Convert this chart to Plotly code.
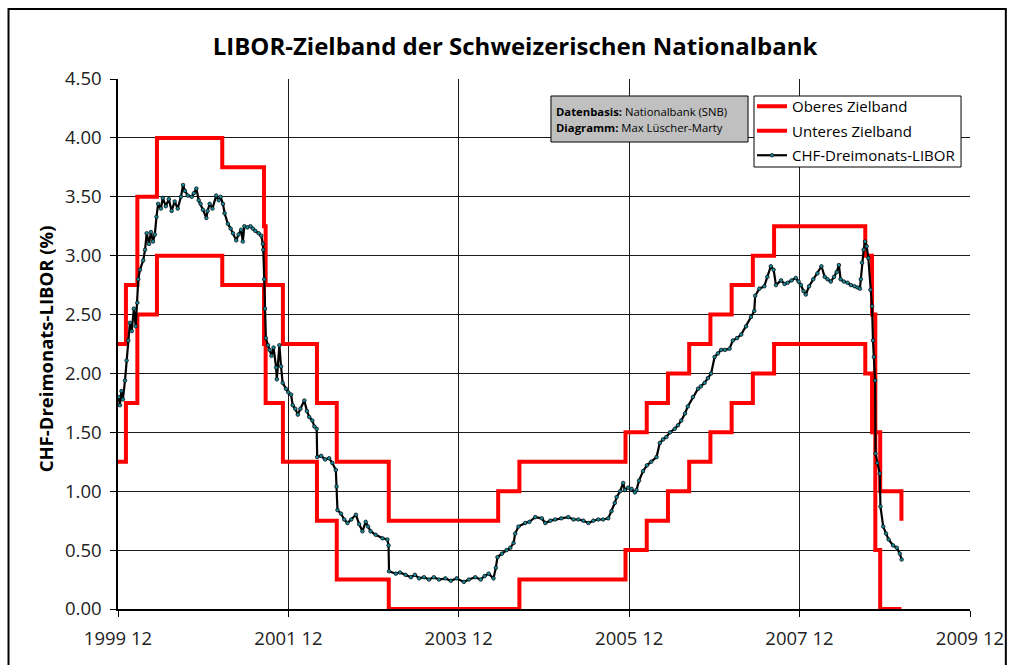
import plotly.graph_objects as go

# ---------------- data ----------------
band_dates = ["1999-12-31", "2000-02-03", "2000-03-23", "2000-06-15", "2001-03-22",
              "2001-09-17", "2001-09-24", "2001-12-07", "2002-05-02", "2002-07-26",
              "2003-03-06", "2004-06-17", "2004-09-16", "2005-12-15", "2006-03-16",
              "2006-06-15", "2006-09-14", "2006-12-14", "2007-03-15", "2007-06-14",
              "2007-09-13", "2008-10-08", "2008-11-06", "2008-11-20", "2008-12-11",
              "2009-03-12"]
upper_band = [2.25, 2.75, 3.50, 4.00, 3.75, 3.25, 2.75, 2.25, 1.75, 1.25,
              0.75, 1.00, 1.25, 1.50, 1.75, 2.00, 2.25, 2.50, 2.75, 3.00,
              3.25, 3.00, 2.50, 1.50, 1.00, 0.75]
lower_band = [1.25, 1.75, 2.50, 3.00, 2.75, 2.25, 1.75, 1.25, 0.75, 0.25,
              0.00, 0.00, 0.25, 0.50, 0.75, 1.00, 1.25, 1.50, 1.75, 2.00,
              2.25, 2.00, 1.50, 0.50, 0.00, 0.00]

libor_dates = [
    "2000-01-03", "2000-01-08", "2000-01-15", "2000-01-21", "2000-01-30", "2000-02-06",
    "2000-02-13", "2000-02-20", "2000-02-28", "2000-03-08", "2000-03-16", "2000-03-23",
    "2000-03-27", "2000-04-03", "2000-04-17", "2000-04-25", "2000-05-02", "2000-05-12",
    "2000-05-20", "2000-05-29", "2000-06-06", "2000-06-13", "2000-06-20", "2000-07-02",
    "2000-07-10", "2000-07-23", "2000-08-05", "2000-08-17", "2000-08-30", "2000-09-12",
    "2000-09-26", "2000-10-05", "2000-10-13", "2000-10-25", "2000-11-11", "2000-11-20",
    "2000-12-01", "2000-12-11", "2000-12-19", "2000-12-29", "2001-01-13", "2001-01-18",
    "2001-01-27", "2001-02-08", "2001-02-24", "2001-03-07", "2001-03-15", "2001-03-25",
    "2001-04-01", "2001-04-15", "2001-04-27", "2001-05-07", "2001-05-21", "2001-05-31",
    "2001-06-11", "2001-06-18", "2001-06-25", "2001-07-08", "2001-07-21", "2001-07-31",
    "2001-08-11", "2001-08-25", "2001-09-05", "2001-09-12", "2001-09-14", "2001-09-18",
    "2001-09-21", "2001-09-25", "2001-10-04", "2001-10-11", "2001-10-19", "2001-10-28",
    "2001-11-08", "2001-11-11", "2001-11-22", "2001-11-29", "2001-12-06", "2001-12-20",
    "2001-12-30", "2002-01-11", "2002-01-18", "2002-01-29", "2002-02-09", "2002-02-20",
    "2002-03-09", "2002-03-20", "2002-03-30", "2002-04-12", "2002-04-21", "2002-05-01",
    "2002-05-03", "2002-05-20", "2002-06-06", "2002-06-23", "2002-07-07", "2002-07-22",
    "2002-07-25", "2002-07-29", "2002-08-13", "2002-08-27", "2002-09-10", "2002-09-26",
    "2002-10-16", "2002-10-30", "2002-11-13", "2002-11-27", "2002-12-07", "2002-12-18",
    "2003-01-09", "2003-02-07", "2003-02-28", "2003-03-05", "2003-03-07", "2003-04-05",
    "2003-04-23", "2003-05-17", "2003-06-09", "2003-06-26", "2003-07-14", "2003-08-04",
    "2003-08-25", "2003-09-15", "2003-10-07", "2003-11-04", "2003-11-27", "2003-12-22",
    "2004-01-22", "2004-02-12", "2004-03-11", "2004-04-03", "2004-04-20", "2004-05-07",
    "2004-05-28", "2004-06-07", "2004-06-14", "2004-07-03", "2004-07-23", "2004-08-08",
    "2004-08-22", "2004-08-29", "2004-09-12", "2004-10-11", "2004-10-29", "2004-11-23",
    "2004-12-21", "2005-01-05", "2005-01-27", "2005-02-16", "2005-03-15", "2005-04-14",
    "2005-05-06", "2005-05-27", "2005-06-17", "2005-07-09", "2005-07-30", "2005-08-20",
    "2005-09-10", "2005-10-02", "2005-10-16", "2005-10-30", "2005-11-07", "2005-11-22",
    "2005-12-05", "2005-12-12", "2005-12-26", "2006-01-10", "2006-01-24", "2006-01-31",
    "2006-02-11", "2006-02-28", "2006-03-17", "2006-04-04", "2006-04-27", "2006-05-11",
    "2006-05-25", "2006-06-08", "2006-06-24", "2006-07-14", "2006-07-28", "2006-08-11",
    "2006-08-27", "2006-09-08", "2006-09-30", "2006-10-22", "2006-11-03", "2006-11-19",
    "2006-12-03", "2006-12-17", "2007-01-01", "2007-01-15", "2007-01-29", "2007-02-14",
    "2007-03-06", "2007-03-20", "2007-04-07", "2007-04-25", "2007-05-16", "2007-06-06",
    "2007-06-20", "2007-06-24", "2007-07-12", "2007-08-02", "2007-08-15", "2007-08-30",
    "2007-09-11", "2007-09-21", "2007-10-13", "2007-10-28", "2007-11-10", "2007-11-27",
    "2007-12-15", "2007-12-27", "2008-01-06", "2008-01-17", "2008-01-27", "2008-02-10",
    "2008-02-28", "2008-03-17", "2008-04-03", "2008-04-17", "2008-04-29", "2008-05-13",
    "2008-05-27", "2008-06-07", "2008-06-17", "2008-06-24", "2008-07-08", "2008-07-24",
    "2008-08-07", "2008-08-23", "2008-09-05", "2008-09-15", "2008-09-19", "2008-09-24",
    "2008-10-01", "2008-10-07", "2008-10-14", "2008-10-21", "2008-10-30", "2008-11-06",
    "2008-11-10", "2008-11-14", "2008-11-19", "2008-11-21", "2008-11-28", "2008-12-09",
    "2008-12-12", "2008-12-24", "2009-01-05", "2009-01-16", "2009-02-04", "2009-02-20",
    "2009-03-05", "2009-03-13"]
libor_values = [
    1.80, 1.73, 1.85, 1.78, 1.94, 2.11,
    2.28, 2.43, 2.36, 2.55, 2.40, 2.60,
    2.80, 2.88, 2.96, 3.05, 3.19, 3.10,
    3.20, 3.12, 3.18, 3.33, 3.44, 3.40,
    3.49, 3.42, 3.48, 3.38, 3.46, 3.40,
    3.50, 3.60, 3.55, 3.51, 3.50, 3.53,
    3.57, 3.47, 3.44, 3.39, 3.32, 3.38,
    3.44, 3.40, 3.51, 3.47, 3.50, 3.44,
    3.36, 3.27, 3.23, 3.19, 3.13, 3.18,
    3.22, 3.12, 3.25, 3.24, 3.25, 3.23,
    3.21, 3.19, 3.17, 3.10, 3.05, 2.80,
    2.55, 2.30, 2.24, 2.20, 2.15, 2.22,
    2.05, 1.95, 2.24, 2.06, 1.92, 1.87,
    1.84, 1.82, 1.73, 1.70, 1.65, 1.70,
    1.77, 1.68, 1.63, 1.60, 1.55, 1.53,
    1.29, 1.30, 1.27, 1.28, 1.24, 1.18,
    1.04, 0.84, 0.81, 0.76, 0.73, 0.76,
    0.80, 0.72, 0.66, 0.74, 0.70, 0.66,
    0.63, 0.60, 0.59, 0.54, 0.32, 0.30,
    0.31, 0.29, 0.27, 0.29, 0.26, 0.27,
    0.25, 0.27, 0.25, 0.26, 0.24, 0.26,
    0.23, 0.25, 0.27, 0.25, 0.28, 0.30,
    0.26, 0.35, 0.44, 0.47, 0.50, 0.52,
    0.56, 0.64, 0.70, 0.73, 0.74, 0.78,
    0.77, 0.73, 0.75, 0.76, 0.77, 0.78,
    0.76, 0.76, 0.75, 0.73, 0.75, 0.76,
    0.76, 0.77, 0.83, 0.90, 0.95, 1.00,
    1.07, 1.01, 1.03, 1.02, 0.99, 1.01,
    1.09, 1.17, 1.22, 1.25, 1.29, 1.41,
    1.44, 1.46, 1.50, 1.53, 1.56, 1.60,
    1.66, 1.72, 1.80, 1.87, 1.89, 1.92,
    1.96, 2.00, 2.14, 2.17, 2.20, 2.20,
    2.21, 2.28, 2.30, 2.33, 2.40, 2.48,
    2.53, 2.66, 2.72, 2.74, 2.82, 2.91,
    2.88, 2.75, 2.79, 2.76, 2.77, 2.79,
    2.81, 2.78, 2.75, 2.70, 2.67, 2.74,
    2.80, 2.85, 2.91, 2.82, 2.80, 2.78,
    2.82, 2.86, 2.92, 2.80, 2.78, 2.77,
    2.75, 2.74, 2.73, 2.72, 2.80, 2.94,
    3.05, 3.12, 3.08, 2.98, 2.71, 2.57,
    2.28, 2.14, 1.94, 1.32, 1.24, 1.15,
    0.87, 0.70, 0.64, 0.59, 0.54, 0.52,
    0.47, 0.42]

x_tick_dates = ["1999-12-31", "2001-12-31", "2003-12-31", "2005-12-31", "2007-12-31", "2009-12-31"]
x_tick_labels = ["1999 12", "2001 12", "2003 12", "2005 12", "2007 12", "2009 12"]
y_tick_values = [0.0, 0.5, 1.0, 1.5, 2.0, 2.5, 3.0, 3.5, 4.0, 4.5]

# ---------------- layout helpers ----------------
W, H = 1016, 665
ML, MR, MT, MB = 118, 42, 79, 56
PW = W - ML - MR
PH = H - MT - MB
FONT = "Open Sans"


def px_x(p):
    return (p - ML) / PW


def px_y(p):
    return (H - MB - p) / PH


fig = go.Figure()
fig.add_trace(go.Scatter(
    x=band_dates, y=upper_band, mode="lines", name="Oberes Zielband",
    legendgroup="g1", line=dict(color="#FF0000", width=4, shape="hv")))
fig.add_trace(go.Scatter(
    x=band_dates, y=lower_band, mode="lines", name="Unteres Zielband",
    legendgroup="g2", line=dict(color="#FF0000", width=4, shape="hv")))
fig.add_trace(go.Scatter(
    x=libor_dates, y=libor_values, mode="lines+markers", name="CHF-Dreimonats-LIBOR",
    legendgroup="g3", line=dict(color="#000000", width=2.2),
    marker=dict(symbol="circle", size=3.6, color="#1a8a99", line=dict(color="#000000", width=0.7))))

fig.update_layout(
    width=W, height=H,
    margin=dict(l=ML, r=MR, t=MT, b=MB, pad=0),
    paper_bgcolor="white", plot_bgcolor="white",
    font=dict(family=FONT, color="#000000"),
    title=dict(text="<b>LIBOR-Zielband der Schweizerischen Nationalbank</b>",
               font=dict(family=FONT, size=24, color="#000000"),
               x=515 / W, xanchor="center", y=1 - 47 / H, yanchor="middle"),
    xaxis=dict(type="date", range=[x_tick_dates[0], x_tick_dates[-1]],
               tickmode="array", tickvals=x_tick_dates, ticktext=x_tick_labels,
               showgrid=True, gridcolor="#1a1a1a", gridwidth=1,
               showline=True, linecolor="#000000", linewidth=1.5,
               ticks="outside", ticklen=6, tickcolor="#000000", tickwidth=1,
               tickfont=dict(family=FONT, size=18.5, color="#222222"),
               ticklabelstandoff=6, zeroline=False),
    yaxis=dict(range=[0, 4.5], tickmode="array", tickvals=y_tick_values,
               tickformat=".2f",
               showgrid=True, gridcolor="#1a1a1a", gridwidth=1,
               showline=True, linecolor="#000000", linewidth=1.5,
               ticks="outside", ticklen=6, tickcolor="#000000", tickwidth=1,
               tickfont=dict(family=FONT, size=18.5, color="#222222"),
               ticklabelstandoff=5, zeroline=False),
    legend=dict(x=px_x(755), y=px_y(90), xanchor="left", yanchor="top",
                bgcolor="rgba(0,0,0,0)", borderwidth=0,
                font=dict(family=FONT, size=15, color="#000000"),
                tracegroupgap=2, itemwidth=30),
    showlegend=True,
)

# outer chart frame
fig.add_shape(type="rect", xref="paper", yref="paper",
              x0=px_x(8), x1=px_x(1010), y0=px_y(700), y1=px_y(9),
              line=dict(color="#000000", width=2), fillcolor="rgba(0,0,0,0)")

# legend box
fig.add_shape(type="rect", xref="paper", yref="paper",
              x0=px_x(757), x1=px_x(965), y0=px_y(167), y1=px_y(96),
              line=dict(color="#000000", width=1), fillcolor="#FFFFFF")

# source box
fig.add_shape(type="rect", xref="paper", yref="paper",
              x0=px_x(553), x1=px_x(751), y0=px_y(142), y1=px_y(96),
              line=dict(color="#000000", width=1), fillcolor="#C0C0C0")
fig.add_annotation(text="<b>Datenbasis:</b> Nationalbank (SNB)", xref="paper", yref="paper",
                   x=px_x(556), y=px_y(111), xanchor="left", yanchor="middle",
                   showarrow=False, font=dict(family=FONT, size=11.3, color="#000000"))
fig.add_annotation(text="<b>Diagramm:</b> Max Lüscher-Marty", xref="paper", yref="paper",
                   x=px_x(556), y=px_y(128), xanchor="left", yanchor="middle",
                   showarrow=False, font=dict(family=FONT, size=11.3, color="#000000"))

# y-axis title
fig.add_annotation(text="<b>CHF-Dreimonats-LIBOR (%)</b>", xref="paper", yref="paper",
                   x=px_x(45), y=px_y(349), xanchor="center", yanchor="middle", textangle=-90,
                   showarrow=False, font=dict(family=FONT, size=18.5, color="#000000"))

fig.write_html("out.html", config={"displayModeBar": False},
               post_script="document.body.style.margin='0px';document.body.style.overflow='hidden';")
